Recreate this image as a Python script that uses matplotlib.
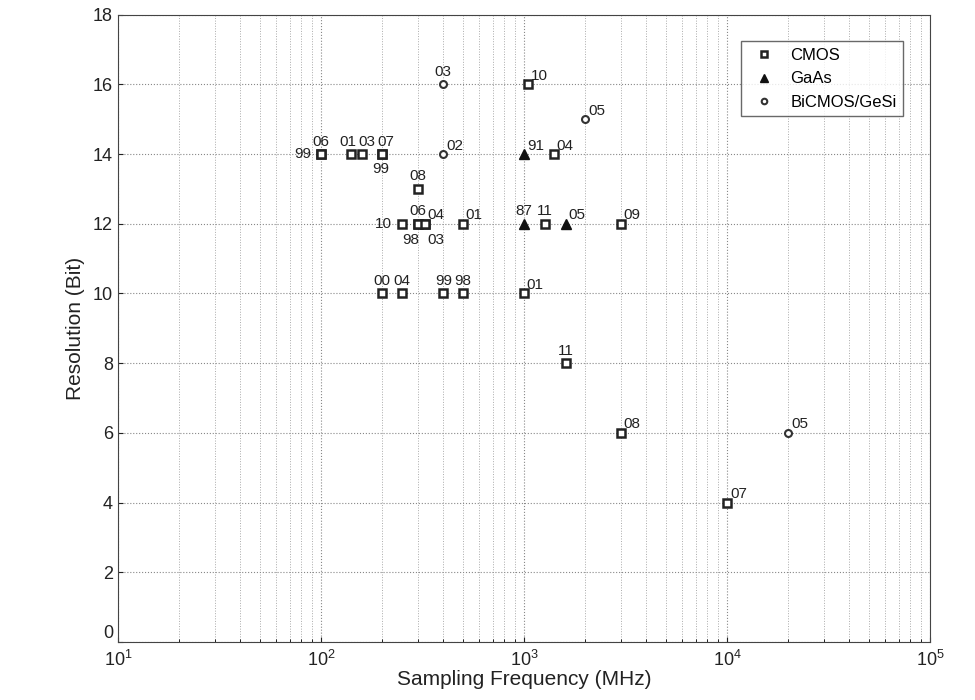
import matplotlib.pyplot as plt

plt.rcParams['font.family'] = ['Liberation Sans', 'DejaVu Sans']

# CMOS ADCs: sampling frequency (MHz), resolution (bit), year label
cmos_freq = [100, 100, 140, 160, 200, 200, 300, 250, 300, 325, 300, 325, 500,
             200, 250, 400, 500, 1000, 1270, 3000, 1050, 1400, 1600, 3000, 10000]
cmos_bits = [14, 14, 14, 14, 14, 14, 13, 12, 12, 12, 12, 12, 12,
             10, 10, 10, 10, 10, 12, 12, 16, 14, 8, 6, 4]
cmos_year = ['06', '99', '01', '03', '07', '99', '08', '10', '06', '04', '98', '03', '01',
             '00', '04', '99', '98', '01', '11', '09', '10', '04', '11', '08', '07']

# GaAs ADCs
gaas_freq = [1000, 1000, 1600]
gaas_bits = [14, 12, 12]
gaas_year = ['91', '87', '05']

# BiCMOS / GeSi ADCs
bic_freq = [400, 400, 2000, 20000]
bic_bits = [16, 14, 15, 6]
bic_year = ['03', '02', '05', '05']

# label placement codes (style only)
cmos_pos = ['a', 'l', 'al', 'aR', 'aR', 'b', 'a', 'l', 'a', 'ar', 'bl', 'br', 'ar',
            'a', 'a', 'a', 'a', 'ar', 'a', 'ar', 'ar', 'ar', 'a', 'ar', 'ar']
gaas_pos = ['ar', 'a', 'ar']
bic_pos = ['a', 'ar', 'ar', 'ar']

offsets = {
    'a': ((0, 4), 'center', 'bottom'),
    'al': ((-2, 4), 'center', 'bottom'),
    'aR': ((3, 4), 'center', 'bottom'),
    'ar': ((2, 1), 'left', 'bottom'),
    'l': ((-7, 0), 'right', 'center'),
    'b': ((-1, -6), 'center', 'top'),
    'bl': ((-5, -7), 'center', 'top'),
    'br': ((8, -7), 'center', 'top'),
}

fig = plt.figure(figsize=(9.75, 7), dpi=100)
ax = fig.add_axes([0.121, 0.083, 0.833, 0.896])

ax.plot(cmos_freq, cmos_bits, 's', ms=5.5, mfc='white', mec='#222222', mew=1.8,
        ls='none', label='CMOS')
ax.plot(gaas_freq, gaas_bits, '^', ms=6.5, mfc='#111111', mec='#111111',
        ls='none', label='GaAs')
ax.plot(bic_freq, bic_bits, 'o', ms=5, mfc='white', mec='#333333', mew=1.5,
        ls='none', label='BiCMOS/GeSi')

for fr, bt, yr, ps in (list(zip(cmos_freq, cmos_bits, cmos_year, cmos_pos)) +
                       list(zip(gaas_freq, gaas_bits, gaas_year, gaas_pos)) +
                       list(zip(bic_freq, bic_bits, bic_year, bic_pos))):
    off, ha, va = offsets[ps]
    ax.annotate(yr, (fr, bt), xytext=off, textcoords='offset points',
                ha=ha, va=va, fontsize=11, color='#222222')

ax.set_xscale('log')
ax.set_xlim(10, 1e5)
ax.set_ylim(0, 18)
ax.set_yticks(range(0, 19, 2))
ax.grid(True, which='major', ls=':', color='#888888', lw=0.8)
ax.grid(True, which='minor', axis='x', ls=':', color='#aaaaaa', lw=0.7)
ax.tick_params(labelsize=13, colors='#222222', direction='in')
ax.tick_params(axis='x', pad=6)
ax.tick_params(which='minor', direction='in')
for sp in ax.spines.values():
    sp.set_color('#444444')

# lift the "0" label a bit so it sits above the 10^1 label, as in the original
fig.canvas.draw()
ax.get_yticklabels()[0].set_va('bottom')

ax.set_xlabel('Sampling Frequency (MHz)', fontsize=15, color='#222222', labelpad=0)
ax.set_ylabel('Resolution (Bit)', fontsize=15, color='#222222', labelpad=6)

leg = ax.legend(loc='upper right', fontsize=12, frameon=True, fancybox=False,
                borderaxespad=1.6, handletextpad=0.6, markerscale=0.8)
leg.get_frame().set_edgecolor('#444444')
leg.get_frame().set_linewidth(1.0)

fig.savefig('out.png', dpi=100, facecolor='white')
